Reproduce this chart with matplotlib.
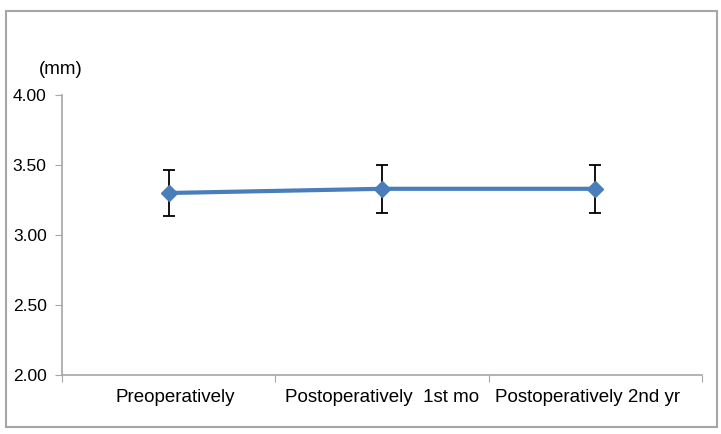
import matplotlib
matplotlib.use('Agg')
from matplotlib import pyplot as plt
from matplotlib.patches import Rectangle
from matplotlib.transforms import offset_copy

# data
categories = ['Preoperatively', 'Postoperatively  1st mo', 'Postoperatively 2nd yr']
means = [3.30, 3.33, 3.33]
errors = [0.165, 0.17, 0.17]
yticks = [2.00, 2.50, 3.00, 3.50, 4.00]
label_shift = [7, 0, -8]  # px nudge of category labels, as in the original

plt.rcParams['font.family'] = ['Liberation Sans', 'DejaVu Sans']

fig = plt.figure(figsize=(7.21, 4.34), dpi=100)
ax = fig.add_axes([62 / 721, 1 - 375 / 434, 640 / 721, 280 / 434])

# outer frame like the spreadsheet chart area
fig.patches.append(Rectangle((6 / 721, 1 - 427 / 434), 711 / 721, 416 / 434,
                             transform=fig.transFigure, fill=False,
                             edgecolor='#a6a6a6', linewidth=1.5))

x = list(range(len(categories)))
ax.errorbar(x, means, yerr=errors, color='#4a7ebb', linewidth=3,
            marker='D', markersize=8, ecolor='black', elinewidth=1.3,
            capsize=4, capthick=1.3)

ax.set_xlim(-0.5, 2.5)
ax.set_ylim(2.0, 4.0)
ax.set_yticks(yticks)
ax.set_yticklabels(['%.2f' % v for v in yticks], fontsize=12.5)
ax.tick_params(axis='y', length=5, color='#a6a6a6', pad=6)
# category boundary ticks only, labels drawn as text
ax.set_xticks([-0.5, 0.5, 1.5, 2.5])
ax.set_xticklabels([])
ax.tick_params(axis='x', length=5, color='#a6a6a6')

base = ax.get_xaxis_transform()
for xi, name, dx in zip(x, categories, label_shift):
    tr = offset_copy(base, fig=fig, x=dx, y=-23, units='dots')
    ax.text(xi, 0, name, transform=tr, fontsize=13.5, ha='center', va='center')

for side in ['top', 'right']:
    ax.spines[side].set_visible(False)
for side in ['left', 'bottom']:
    ax.spines[side].set_color('#a6a6a6')
    ax.spines[side].set_linewidth(1.2)

ax.text(83 / 721, 1 - 78 / 434, '(mm)', transform=fig.transFigure,
        fontsize=13.5, ha='right', va='bottom')

fig.savefig('out.png', dpi=100)
